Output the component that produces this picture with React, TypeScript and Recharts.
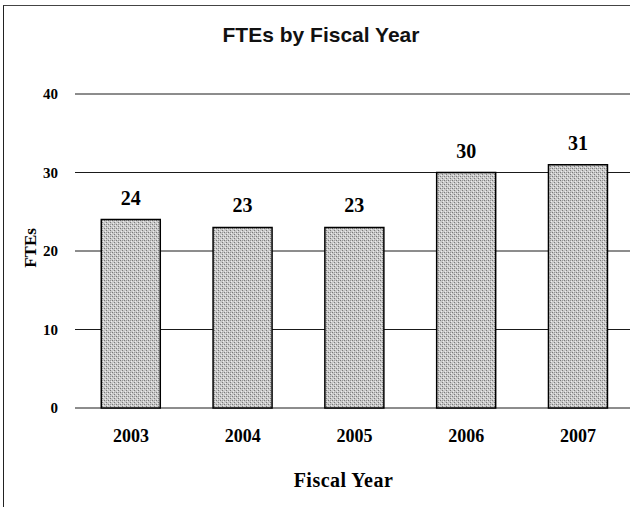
import React from 'react';
import { BarChart, Bar, XAxis, YAxis, CartesianGrid, LabelList, Label } from 'recharts';

// values
const years = ['2003', '2004', '2005', '2006', '2007'];
const ftes = [24, 23, 23, 30, 31];
const yTicks = [0, 10, 20, 30, 40];

const data = years.map((year, i) => ({ year, ftes: ftes[i] }));

const SERIF = "'Liberation Serif', 'Times New Roman', serif";
const SANS = "'Liberation Sans', Arial, sans-serif";

const YLabel = ({ viewBox }: any) => {
  const x = 30;
  const y = viewBox.y + viewBox.height / 2 - 3;
  return (
    <text
      x={x}
      y={y}
      transform={`rotate(-90, ${x}, ${y})`}
      textAnchor="middle"
      dominantBaseline="central"
      fontFamily={SERIF}
      fontWeight="bold"
      fontSize={17}
      fill="#000"
    >
      FTEs
    </text>
  );
};

const XLabel = ({ viewBox }: any) => (
  <text
    x={viewBox.x + viewBox.width / 2 - 11}
    y={viewBox.y + 79}
    textAnchor="middle"
    fontFamily={SERIF}
    fontWeight="bold"
    fontSize={20}
    letterSpacing={0.5}
    fill="#000"
  >
    Fiscal Year
  </text>
);

export default function App() {
  return (
    <div
      style={{
        position: 'absolute',
        left: 0,
        top: 0,
        width: 630,
        height: 507,
        overflow: 'hidden',
        background: '#fff',
      }}
    >
      {/* frame around the chart, right/bottom edges fall outside the picture */}
      <div
        style={{
          position: 'absolute',
          left: 3,
          top: 5,
          width: 660,
          height: 520,
          borderLeft: '1.5px solid #222',
          borderTop: '1px solid #444',
        }}
      />
      <div
        style={{
          position: 'absolute',
          left: 0,
          top: 24,
          width: 642,
          textAlign: 'center',
          fontFamily: SANS,
          fontWeight: 'bold',
          fontSize: 21,
          lineHeight: '21px',
          color: '#111',
        }}
      >
        FTEs by Fiscal Year
      </div>
      <div style={{ position: 'absolute', left: 0, top: 0 }}>
        <BarChart
          width={640}
          height={507}
          data={data}
          margin={{ top: 94, right: 6, bottom: 19, left: 0 }}
          barCategoryGap="23.5%"
        >
          <defs>
            <pattern id="stipple" width="4" height="4" patternUnits="userSpaceOnUse">
              <rect width="4" height="4" fill="#c9c9c9" />
              <rect x="0" y="0" width="1" height="1" fill="#7a7a7a" />
              <rect x="2" y="2" width="1" height="1" fill="#7a7a7a" />
              <rect x="2" y="0" width="1" height="1" fill="#9a9a9a" />
              <rect x="1" y="3" width="1" height="1" fill="#ececec" />
              <rect x="3" y="1" width="1" height="1" fill="#ececec" />
            </pattern>
          </defs>
          <CartesianGrid vertical={false} stroke="#1a1a1a" strokeWidth={1} />
          <XAxis
            dataKey="year"
            axisLine={false}
            tickLine={false}
            tickSize={0}
            tickMargin={21}
            height={80}
            tick={{ fill: '#000', fontFamily: SERIF, fontWeight: 'bold', fontSize: 18 }}
          >
            <Label content={<XLabel />} />
          </XAxis>
          <YAxis
            width={75}
            domain={[0, 40]}
            ticks={yTicks}
            axisLine={false}
            tickLine={false}
            tickSize={0}
            tickMargin={17}
            tick={{ fill: '#000', fontFamily: SERIF, fontWeight: 'bold', fontSize: 15 }}
          >
            <Label content={<YLabel />} />
          </YAxis>
          <Bar
            dataKey="ftes"
            fill="url(#stipple)"
            stroke="#000"
            strokeWidth={1.5}
            isAnimationActive={false}
          >
            <LabelList
              dataKey="ftes"
              position="top"
              offset={15}
              fill="#000"
              fontFamily={SERIF}
              fontWeight="bold"
              fontSize={20}
            />
          </Bar>
        </BarChart>
      </div>
    </div>
  );
}
